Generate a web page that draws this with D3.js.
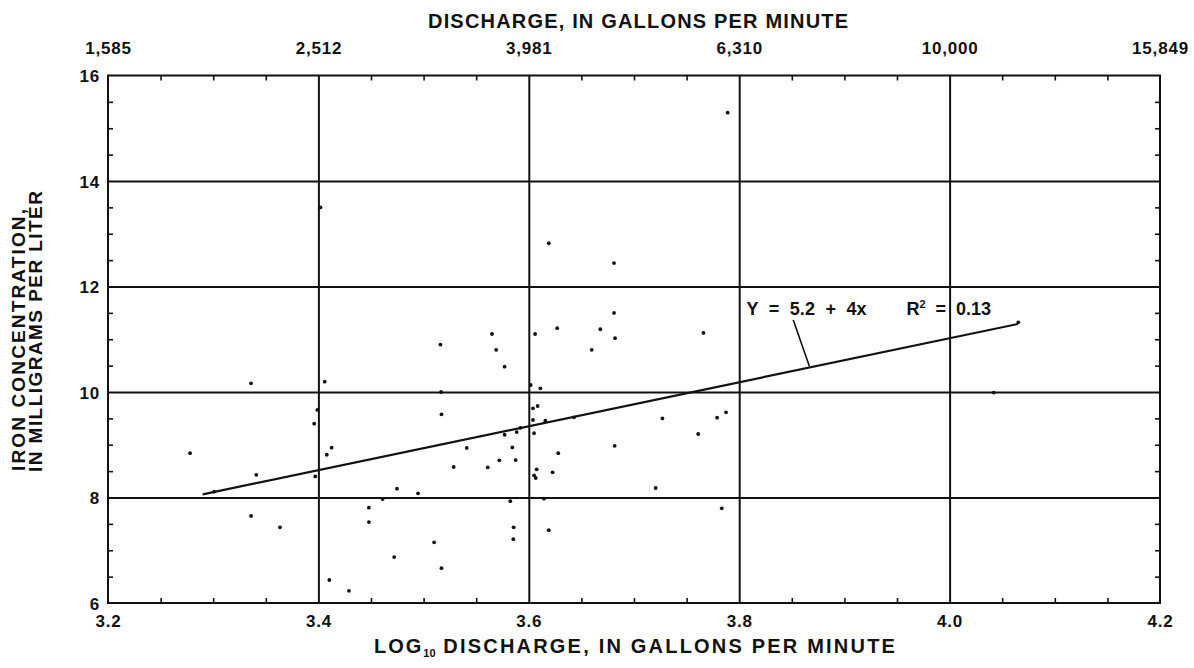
<!DOCTYPE html>
<html>
<head>
<meta charset="utf-8">
<script src="https://cdn.jsdelivr.net/npm/d3@7"></script>
<style>
  html, body { margin: 0; padding: 0; background: #fff; }
  svg { display: block; }
  text { font-family: "Liberation Sans", Arial, Helvetica, sans-serif; font-weight: bold; fill: #111; }
</style>
</head>
<body>
<svg id="chart" width="1194" height="668"></svg>
<script>
// ---------- data ----------
const logQ = [3.278, 3.301, 3.336, 3.336, 3.341, 3.3635, 3.396, 3.397, 3.399, 3.402,
  3.406, 3.408, 3.4126, 3.4104, 3.429, 3.448, 3.448, 3.461, 3.472, 3.4747,
  3.4947, 3.51, 3.516, 3.5166, 3.517, 3.517, 3.5286, 3.541, 3.561, 3.565,
  3.569, 3.572, 3.577, 3.577, 3.5824, 3.5843, 3.5856, 3.5853, 3.5875, 3.5885,
  3.592, 3.6018, 3.604, 3.604, 3.605, 3.6075, 3.605, 3.6066, 3.606, 3.6084,
  3.611, 3.6144, 3.6157, 3.619, 3.619, 3.6226, 3.627, 3.628, 3.643, 3.6598,
  3.668, 3.681, 3.681, 3.682, 3.6816, 3.7206, 3.727, 3.761, 3.766, 3.779,
  3.7834, 3.7875, 3.789, 4.042, 4.0653];
const iron = [8.84, 8.11, 10.165, 7.65, 8.43, 7.435, 9.40, 8.40, 9.66, 13.5,
  10.195, 8.81, 8.944, 6.436, 6.23, 7.807, 7.535, 7.97, 6.87, 8.167,
  8.08, 7.15, 10.90, 10.0, 9.577, 6.66, 8.578, 8.94, 8.57, 11.1,
  10.80, 8.705, 10.48, 9.19, 7.93, 8.95, 7.435, 7.21, 8.71, 9.24,
  9.32, 10.133, 9.69, 9.47, 9.22, 8.535, 8.42, 8.37, 11.10, 9.735,
  10.07, 7.977, 9.456, 12.82, 7.38, 8.478, 11.21, 8.84, 9.52, 10.80,
  11.19, 12.445, 11.50, 11.02, 8.98, 8.18, 9.50, 9.204, 11.12, 9.513,
  7.795, 9.615, 15.295, 9.99, 11.32];

// regression line end points (log discharge, iron)
const fitX = [3.29, 4.065];
const fitY = [8.06, 11.29];

// ticks
const xTickValues = [3.2, 3.4, 3.6, 3.8, 4.0, 4.2];
const xTickLabels = ["3.2", "3.4", "3.6", "3.8", "4.0", "4.2"];
const topTickLabels = ["1,585", "2,512", "3,981", "6,310", "10,000", "15,849"];
const yTickValues = [6, 8, 10, 12, 14, 16];
const yTickLabels = ["6", "8", "10", "12", "14", "16"];
const xMinorValues = [3.25, 3.3, 3.35, 3.45, 3.5, 3.55, 3.65, 3.7, 3.75, 3.85, 3.9, 3.95, 4.05, 4.1, 4.15];
const yMinorValues = [6.5, 7, 7.5, 8.5, 9, 9.5, 10.5, 11, 11.5, 12.5, 13, 13.5, 14.5, 15, 15.5];

// annotation (data coords)
const eqText = "Y  =  5.2  +  4x";
const eqPos = [3.807, 11.46];
const r2Pos = [3.959, 11.46];
const leaderX = [3.8514, 3.8667];
const leaderY = [11.365, 10.49];

// ---------- drawing ----------
const svg = d3.select("#chart");
const L = 108, R = 1160, T = 75.5, B = 603;
const x = d3.scaleLinear().domain([3.2, 4.2]).range([L, R]);
const y = d3.scaleLinear().domain([6, 16]).range([B, T]);

const g = svg.append("g");

// gridlines via axes
const gridX = g.append("g").attr("transform", `translate(0,${B})`)
  .call(d3.axisBottom(x).tickValues(xTickValues.slice(1, -1)).tickSize(-(B - T)).tickFormat(""));
const gridY = g.append("g").attr("transform", `translate(${L},0)`)
  .call(d3.axisLeft(y).tickValues(yTickValues.slice(1, -1)).tickSize(-(R - L)).tickFormat(""));
[gridX, gridY].forEach(a => {
  a.select(".domain").remove();
  a.selectAll("line").attr("stroke", "#111").attr("stroke-width", 2);
});

// minor ticks (inward)
function minor(axisGen, tr) {
  const a = g.append("g").attr("transform", tr).call(axisGen);
  a.select(".domain").remove();
  a.selectAll("line").attr("stroke", "#111").attr("stroke-width", 1.6);
  a.selectAll("text").remove();
}
minor(d3.axisBottom(x).tickValues(xMinorValues).tickSize(-5), `translate(0,${B})`);
minor(d3.axisTop(x).tickValues(xMinorValues).tickSize(-5), `translate(0,${T})`);
minor(d3.axisLeft(y).tickValues(yMinorValues).tickSize(-5), `translate(${L},0)`);
minor(d3.axisRight(y).tickValues(yMinorValues).tickSize(-5), `translate(${R},0)`);

// frame
g.append("rect").attr("x", L).attr("y", T).attr("width", R - L).attr("height", B - T)
  .attr("fill", "none").attr("stroke", "#111").attr("stroke-width", 2);

// tick labels
const lblStyle = sel => sel.attr("font-size", 17).attr("letter-spacing", 0.8);
const bottomAx = g.append("g").attr("transform", `translate(0,${B})`)
  .call(d3.axisBottom(x).tickValues(xTickValues).tickSize(0).tickPadding(12)
    .tickFormat((d, i) => xTickLabels[i]));
const topAx = g.append("g").attr("transform", `translate(0,${T})`)
  .call(d3.axisTop(x).tickValues(xTickValues).tickSize(0).tickPadding(22)
    .tickFormat((d, i) => topTickLabels[i]));
const leftAx = g.append("g").attr("transform", `translate(${L},0)`)
  .call(d3.axisLeft(y).tickValues(yTickValues).tickSize(0).tickPadding(8)
    .tickFormat((d, i) => yTickLabels[i]));
[bottomAx, topAx, leftAx].forEach(a => {
  a.select(".domain").remove();
  a.attr("font-family", null).attr("font-size", null);
  a.selectAll("text").call(lblStyle).attr("fill", "#111");
});
leftAx.selectAll("text").attr("dy", "0.36em");

// regression line
g.append("path")
  .datum(fitX.map((d, i) => [d, fitY[i]]))
  .attr("d", d3.line().x(d => x(d[0])).y(d => y(d[1])))
  .attr("fill", "none").attr("stroke", "#111").attr("stroke-width", 2.2);

// leader
g.append("path")
  .datum(leaderX.map((d, i) => [d, leaderY[i]]))
  .attr("d", d3.line().x(d => x(d[0])).y(d => y(d[1])))
  .attr("fill", "none").attr("stroke", "#111").attr("stroke-width", 1.6);

// points
g.append("g").selectAll("circle")
  .data(logQ.map((d, i) => [d, iron[i]]))
  .join("circle")
  .attr("cx", d => x(d[0])).attr("cy", d => y(d[1])).attr("r", 1.9).attr("fill", "#111");

// annotation
g.append("text").attr("x", x(eqPos[0])).attr("y", y(eqPos[1]))
  .attr("font-size", 18).style("white-space", "pre")
  .attr("textLength", 120).attr("lengthAdjust", "spacing").text(eqText);
const r2 = g.append("text").attr("x", x(r2Pos[0])).attr("y", y(r2Pos[1]))
  .attr("font-size", 18).style("white-space", "pre");
r2.append("tspan").text("R");
r2.append("tspan").attr("font-size", 11).attr("dy", -7).text("2");
r2.append("tspan").attr("dy", 7).text("  =  0.13");

// axis titles
svg.append("text").attr("x", 428).attr("y", 28).attr("font-size", 20)
  .attr("textLength", 420).attr("lengthAdjust", "spacing")
  .text("DISCHARGE, IN GALLONS PER MINUTE");

const bt = svg.append("text").attr("x", 374).attr("y", 653).attr("font-size", 20);
bt.append("tspan").attr("letter-spacing", 2).text("LOG");
bt.append("tspan").attr("font-size", 11).attr("dy", 4).text("10");
bt.append("tspan").attr("dy", -4).attr("letter-spacing", 2.2).text(" DISCHARGE, IN GALLONS PER MINUTE");

svg.append("text").attr("transform", "translate(25,471) rotate(-90)").attr("font-size", 19)
  .attr("textLength", 262).attr("lengthAdjust", "spacing")
  .text("IRON CONCENTRATION,");
svg.append("text").attr("transform", "translate(42,472) rotate(-90)").attr("font-size", 19)
  .attr("textLength", 281).attr("lengthAdjust", "spacing")
  .text("IN MILLIGRAMS PER LITER");
</script>
</body>
</html>
